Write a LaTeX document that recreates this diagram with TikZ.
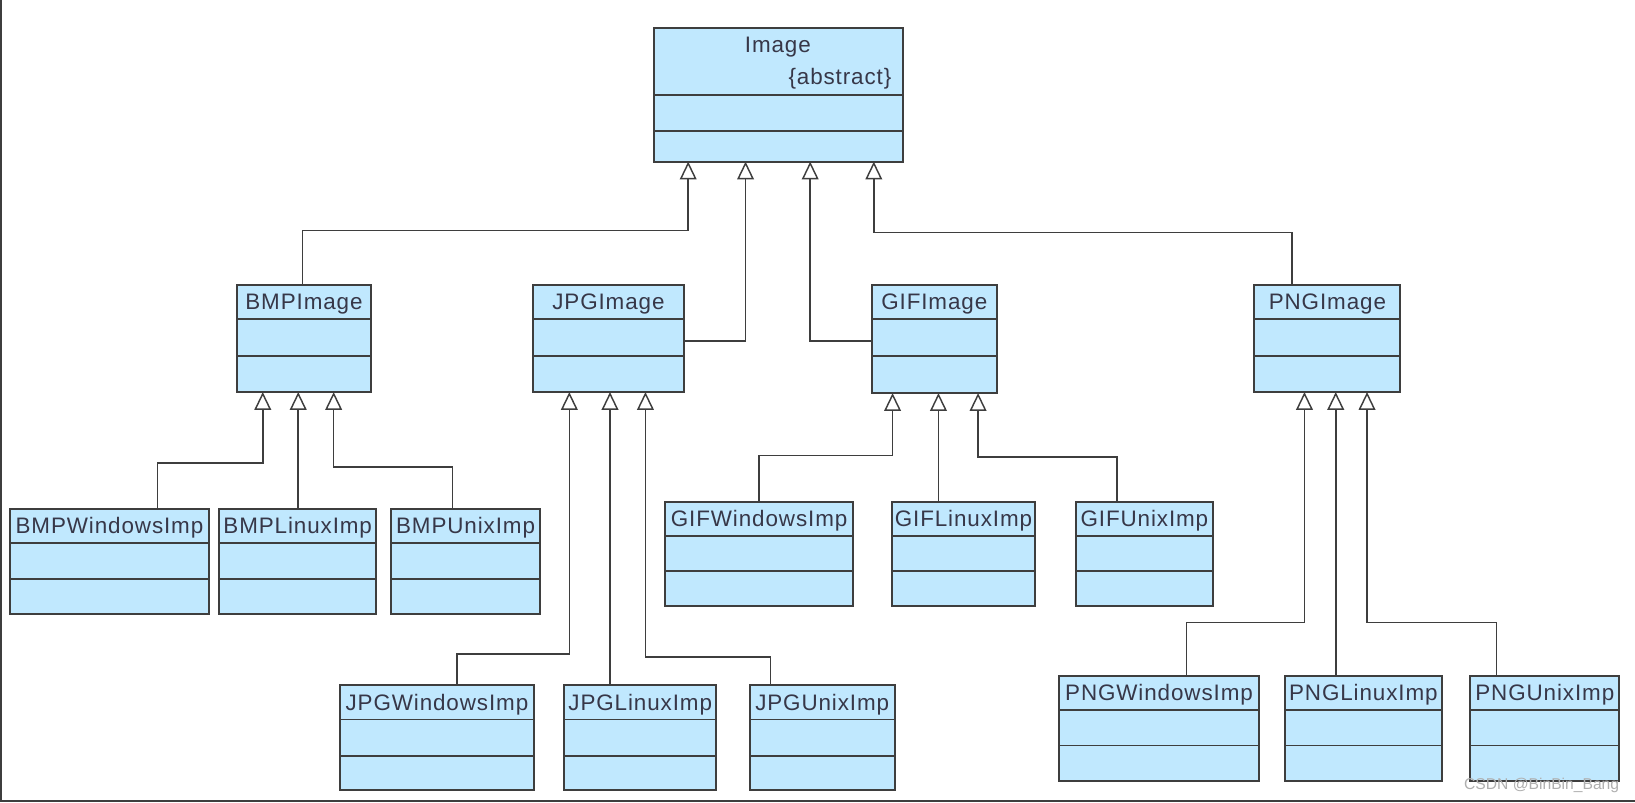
\documentclass[tikz,border=0pt]{standalone}
\usepackage{fontspec}
\setmainfont{Liberation Sans}
\newfontfamily\umlfont[LetterSpace=4]{Liberation Sans}
\usetikzlibrary{arrows.meta,calc}
\definecolor{boxfill}{RGB}{192,232,254}
\definecolor{edgecol}{RGB}{62,62,62}
\definecolor{txtcol}{RGB}{55,55,72}
\definecolor{wmcol}{RGB}{175,175,175}
\tikzset{
  clsbox/.style={draw=edgecol, fill=boxfill, line width=2pt, inner sep=0pt, outer sep=0pt},
  divline/.style={draw=edgecol, line width=1.8pt},
  clsname/.style={text=txtcol, font=\umlfont\fontsize{21.5}{26}\selectfont, inner sep=0pt, anchor=base},
  inh/.style={draw=edgecol, line width=1.5pt, -{Triangle[fill=white, length=17pt, width=16pt, line width=1.4pt]}},
  framestyle/.style={draw=edgecol, line width=2pt},
  wmark/.style={text=wmcol, font=\fontsize{15}{18}\selectfont, inner sep=0pt, anchor=base east},
}
% #1 name, #2 x-left, #3 x-right, #4 y-top, #5 divider1, #6 divider2, #7 y-bottom, #8 label
\newcommand\umlclass[8]{%
  \pgfmathsetmacro\clsw{#3-#2}\pgfmathsetmacro\clsh{#7-#4}%
  \node[clsbox, minimum width=\clsw pt, minimum height=\clsh pt] (#1) at ({(#2+#3)/2},{(#4+#7)/2}) {};
  \draw[divline] (#2,#5) -- (#3,#5);
  \draw[divline] (#2,#6) -- (#3,#6);
  \node[clsname] (#1-name) at ({(#2+#3)/2},{(#4+#5)/2+7.5}) {#8};
}
\begin{document}
\begin{tikzpicture}[x=1pt,y=-1pt]
\useasboundingbox (0,0) rectangle (1568,770);
\fill[white] (0,0) rectangle (1568,770);
\draw[framestyle] (1,0) -- (1,768) -- (1568,768);

% root
\node[clsbox, minimum width=239pt, minimum height=128pt] (img) at (746.5,91) {};
\draw[divline] (627,91) -- (866,91);
\draw[divline] (627,126) -- (866,126);
\node[clsname] (img-name) at (746,50.5) {Image};
\node[clsname, anchor=base east] (img-abs) at (855,81) {\{abstract\}};

% level 1
\umlclass{bmp}{227}{356}{273}{306}{341}{376}{BMPImage}
\umlclass{jpg}{511}{656}{273}{306}{341}{376}{JPGImage}
\umlclass{gif}{836}{956}{273}{306}{341}{377}{GIFImage}
\umlclass{png}{1203}{1343}{273}{306}{341}{376}{PNGImage}

% level 2
\umlclass{bmpw}{10}{200}{488}{521}{555}{589}{BMPWindowsImp}
\umlclass{bmpl}{210}{361}{488}{521}{555}{589}{BMPLinuxImp}
\umlclass{bmpu}{375}{518}{488}{521}{555}{589}{BMPUnixImp}

\umlclass{jpgw}{326}{512}{657}{690}{725}{758}{JPGWindowsImp}
\umlclass{jpgl}{541}{687}{657}{690}{725}{758}{JPGLinuxImp}
\umlclass{jpgu}{719}{858}{657}{690}{725}{758}{JPGUnixImp}

\umlclass{gifw}{638}{818}{481}{514}{548}{581}{GIFWindowsImp}
\umlclass{gifl}{855}{993}{481}{514}{548}{581}{GIFLinuxImp}
\umlclass{gifu}{1032}{1163}{481}{514}{548}{581}{GIFUnixImp}

\umlclass{pngw}{1016}{1207}{648}{681}{715}{749}{PNGWindowsImp}
\umlclass{pngl}{1232}{1383}{648}{681}{715}{749}{PNGLinuxImp}
\umlclass{pngu}{1410}{1553}{648}{681}{715}{749}{PNGUnixImp}

% connectors to Image
\draw[inh] (bmp.north -| 290,0) -- ++(0,-52) -| (img.south -| 660,0);
\draw[inh] (jpg.east |- 0,327) -| (img.south -| 715,0);
\draw[inh] (gif.west |- 0,327) -| (img.south -| 777,0);
\draw[inh] (png.north -| 1239,0) -- ++(0,-50) -| (img.south -| 838,0);

% BMP
\draw[inh] (bmpw.north -| 151,0) -- ++(0,-44) -| (bmp.south -| 252,0);
\draw[inh] (bmpl.north -| 286,0) -- (bmp.south -| 286,0);
\draw[inh] (bmpu.north -| 434,0) -- ++(0,-40) -| (bmp.south -| 320,0);

% JPG
\draw[inh] (jpgw.north -| 438,0) -- ++(0,-30) -| (jpg.south -| 546,0);
\draw[inh] (jpgl.north -| 585,0) -- (jpg.south -| 585,0);
\draw[inh] (jpgu.north -| 739,0) -- ++(0,-27) -| (jpg.south -| 619,0);

% GIF
\draw[inh] (gifw.north -| 728,0) -- ++(0,-44) -| (gif.south -| 856,0);
\draw[inh] (gifl.north -| 900,0) -- (gif.south -| 900,0);
\draw[inh] (gifu.north -| 1071,0) -- ++(0,-43) -| (gif.south -| 938,0);

% PNG
\draw[inh] (pngw.north -| 1138,0) -- ++(0,-51) -| (png.south -| 1251,0);
\draw[inh] (pngl.north -| 1281,0) -- (png.south -| 1281,0);
\draw[inh] (pngu.north -| 1435,0) -- ++(0,-51) -| (png.south -| 1311,0);

\node[wmark] (wm) at (1553,757) {CSDN @BinBin\_Bang};
\end{tikzpicture}
\end{document}
